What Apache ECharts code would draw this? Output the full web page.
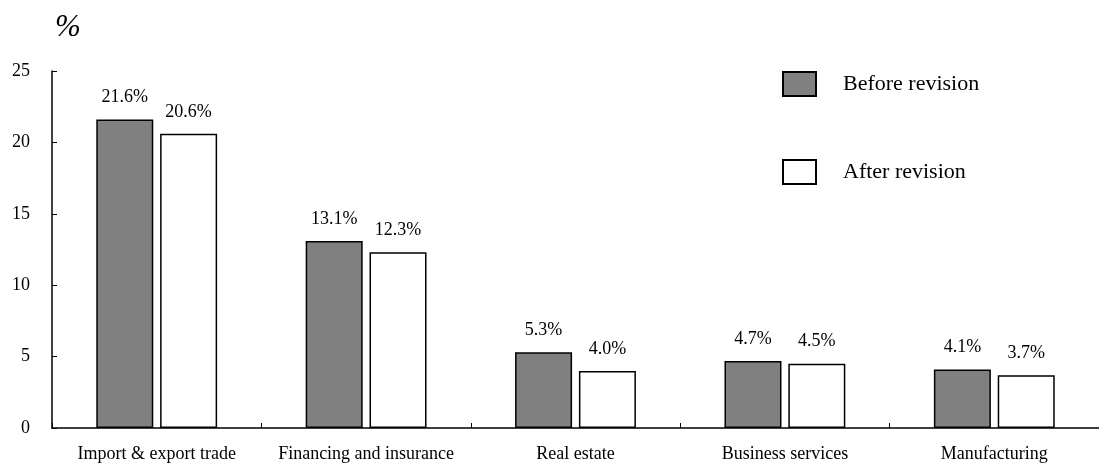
<!DOCTYPE html>
<html>
<head>
<meta charset="utf-8">
<script src="https://cdn.jsdelivr.net/npm/echarts@6/dist/echarts.min.js"></script>
<style>html,body{margin:0;padding:0;background:#fff}#c{width:1099px;height:466px}</style>
</head>
<body>
<div id="c"></div>
<script>
var categories = ['Import & export trade', 'Financing and insurance', 'Real estate', 'Business services', 'Manufacturing'];
var beforeRevision = [21.6, 13.1, 5.3, 4.7, 4.1];
var afterRevision = [20.6, 12.3, 4.0, 4.5, 3.7];
var seriesNames = ['Before revision', 'After revision'];
var yTicks = [0, 5, 10, 15, 20, 25];

var FONT = '"Liberation Serif", "DejaVu Serif", serif';
var chart = echarts.init(document.getElementById('c'), null, {renderer: 'canvas'});
function lbl() {
  return {
    show: true, position: 'top', distance: 13,
    fontFamily: FONT, fontSize: 18, color: '#000',
    formatter: function (p) { return p.value.toFixed(1) + '%'; }
  };
}
chart.setOption({
  animation: false,
  backgroundColor: '#fff',
  grid: {left: 52, top: 71, width: 1050, height: 357, containLabel: false},
  graphic: [{
    type: 'text', left: 55, top: 12,
    style: {text: '%', font: 'italic 31px ' + FONT, fill: '#000'}
  }],
  legend: {
    orient: 'vertical', left: 777, top: 66,
    itemWidth: 33, itemHeight: 24, itemGap: 62,
    icon: 'rect',
    textStyle: {fontFamily: FONT, fontSize: 22, color: '#000', padding: [0, 0, 0, 22]},
    data: seriesNames
  },
  xAxis: {
    type: 'category', data: categories,
    axisLine: {lineStyle: {color: '#000', width: 1.5}},
    axisTick: {show: true, inside: true, length: 5, lineStyle: {color: '#000'}},
    axisLabel: {fontFamily: FONT, fontSize: 18, color: '#000', margin: 17, interval: 0}
  },
  yAxis: {
    type: 'value', min: 0, max: 25, interval: 5,
    splitLine: {show: false},
    axisLine: {show: true, lineStyle: {color: '#000', width: 1.5}},
    axisTick: {show: true, inside: true, length: 5, lineStyle: {color: '#000'}},
    axisLabel: {fontFamily: FONT, fontSize: 18, color: '#000', margin: 22,
      formatter: function (v) { return yTicks.indexOf(v) >= 0 ? String(v) : ''; }}
  },
  series: [{
    name: seriesNames[0], type: 'bar', data: beforeRevision,
    barWidth: 57, barGap: '12%',
    itemStyle: {color: '#808080', borderColor: '#000', borderWidth: 1.5},
    label: lbl()
  }, {
    name: seriesNames[1], type: 'bar', data: afterRevision,
    barWidth: 57,
    itemStyle: {color: '#fff', borderColor: '#000', borderWidth: 1.5},
    label: lbl()
  }]
});
</script>
</body>
</html>
